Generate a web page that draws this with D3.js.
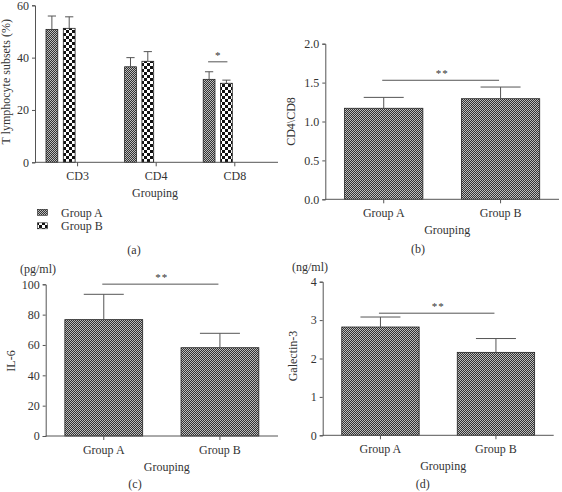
<!DOCTYPE html>
<html><head><meta charset="utf-8">
<script src="https://cdn.jsdelivr.net/npm/d3@7"></script>
<style>
body{margin:0;background:#fff}
svg text{font-family:"Liberation Serif","DejaVu Serif",serif;fill:#333}
</style></head><body>
<script>
// ---- data ----
const subsetCats = ["CD3", "CD4", "CD8"];
const seriesNames = ["Group A", "Group B"];
const subsetA = [50.8, 36.5, 31.7];
const subsetAErr = [5.1, 3.5, 2.9];
const subsetB = [51.2, 38.6, 30.2];
const subsetBErr = [4.4, 3.7, 1.2];
const subsetTicks = [0, 20, 40, 60];

const groups = ["Group A", "Group B"];
const ratioVals = [1.17, 1.293];
const ratioErr = [0.14, 0.15];
const ratioTicks = [0, 0.5, 1.0, 1.5, 2.0];

const il6Vals = [76.7, 58.2];
const il6Err = [16.7, 9.5];
const il6Ticks = [0, 20, 40, 60, 80, 100];

const galVals = [2.82, 2.16];
const galErr = [0.26, 0.36];
const galTicks = [0, 1, 2, 3, 4];

// ---- drawing ----
const W = 562, H = 492;
const svg = d3.select("body").append("svg").attr("width", W).attr("height", H);
const defs = svg.append("defs");
const pA = defs.append("pattern").attr("id", "patA").attr("patternUnits", "userSpaceOnUse").attr("width", 2).attr("height", 2);
pA.append("rect").attr("width", 2).attr("height", 2).attr("fill", "#333");
pA.append("rect").attr("width", 1).attr("height", 1).attr("fill", "#bdbdbd");
pA.append("rect").attr("x", 1).attr("y", 1).attr("width", 1).attr("height", 1).attr("fill", "#bdbdbd");
const pB = defs.append("pattern").attr("id", "patB").attr("patternUnits", "userSpaceOnUse").attr("width", 6).attr("height", 6);
pB.append("rect").attr("width", 6).attr("height", 6).attr("fill", "#fff");
pB.append("rect").attr("width", 3).attr("height", 3).attr("fill", "#111");
pB.append("rect").attr("x", 3).attr("y", 3).attr("width", 3).attr("height", 3).attr("fill", "#111");
const fills = ["url(#patA)", "url(#patB)"];
const AX = "#555";
const FS = "12px";

function styleAxis(g) {
  g.attr("font-family", null).attr("font-size", null);
  g.selectAll("path,line").attr("stroke", AX).attr("stroke-width", 1);
  g.selectAll("text").attr("font-size", FS).attr("fill", "#333");
}

function errBar(g, cx, half, y0, y1) {
  g.append("line").attr("x1", cx).attr("x2", cx).attr("y1", y0).attr("y2", y1).attr("stroke", AX);
  g.append("line").attr("x1", cx - half).attr("x2", cx + half).attr("y1", y1).attr("y2", y1).attr("stroke", AX);
}

// Panel (a)
(function () {
  const left = 35, right = 278, top = 5.3, bottom = 162.3;
  const y = d3.scaleLinear().domain([0, 60]).range([bottom, top]);
  const x0 = d3.scaleBand().domain(subsetCats).range([46, 232.3]).paddingInner(0.63).paddingOuter(0);
  const x1 = d3.scaleBand().domain(seriesNames).range([0, x0.bandwidth()]).paddingInner(0.32);
  const g = svg.append("g");
  const vals = [subsetA, subsetB], errs = [subsetAErr, subsetBErr];
  seriesNames.forEach((s, si) => {
    subsetCats.forEach((c, ci) => {
      const xb = x0(c) + x1(s);
      g.append("rect").attr("x", xb).attr("y", y(vals[si][ci])).attr("width", x1.bandwidth())
        .attr("height", y(0) - y(vals[si][ci])).attr("fill", fills[si]).attr("stroke", "#222").attr("stroke-width", 0.8);
      errBar(g, xb + x1.bandwidth() / 2, x1.bandwidth() * 0.35, y(vals[si][ci]), y(vals[si][ci] + errs[si][ci]));
    });
  });
  const ya = g.append("g").attr("transform", `translate(${left},0)`)
    .call(d3.axisLeft(y).tickValues(subsetTicks).tickSize(3).tickPadding(3));
  styleAxis(ya);
  const xt = d3.scaleOrdinal().domain(subsetCats).range(subsetCats.map(c => x0(c) + x0.bandwidth() + 2));
  const xa = g.append("g").attr("transform", `translate(0,${bottom})`)
    .call(d3.axisBottom(xt).tickSize(4).tickPadding(5));
  xa.select(".domain").remove();
  styleAxis(xa);
  g.append("line").attr("x1", left).attr("x2", right).attr("y1", bottom).attr("y2", bottom).attr("stroke", AX);
  const sx1 = x0("CD8") + x1("Group A") + x1.bandwidth() / 2, sx2 = x0("CD8") + x1("Group B") + x1.bandwidth() / 2;
  g.append("line").attr("x1", sx1 - 1).attr("x2", sx2 + 1).attr("y1", y(38.4)).attr("y2", y(38.4)).attr("stroke", AX);
  g.append("text").attr("x", (sx1 + sx2) / 2).attr("y", y(38.4) - 3).attr("text-anchor", "middle").attr("font-size", "11px").text("*");
  g.append("text").attr("transform", `translate(10,${(top + bottom) / 2 - 2}) rotate(-90)`).attr("text-anchor", "middle")
    .attr("font-size", FS).text("T lymphocyte subsets (%)");
  g.append("text").attr("x", 155).attr("y", 197).attr("text-anchor", "middle").attr("font-size", FS).text("Grouping");
  seriesNames.forEach((s, i) => {
    const ly = 209.3 + i * 13.5;
    g.append("rect").attr("x", 37.5).attr("y", ly).attr("width", 10).attr("height", 6)
      .attr("fill", fills[i]).attr("stroke", "#222").attr("stroke-width", 0.6);
    g.append("text").attr("x", 61).attr("y", ly + 7.5).attr("font-size", FS).text(s);
  });
  g.append("text").attr("x", 134).attr("y", 254).attr("text-anchor", "middle").attr("font-size", FS).text("(a)");
})();

function simplePanel(o) {
  const g = svg.append("g");
  const y = d3.scaleLinear().domain([0, o.ymax]).range([o.bottom, o.top]);
  const x = d3.scaleBand().domain(groups).range([o.left, o.right]).paddingInner(0.33).paddingOuter(0.165);
  groups.forEach((gr, i) => {
    g.append("rect").attr("x", x(gr)).attr("y", y(o.vals[i])).attr("width", x.bandwidth())
      .attr("height", y(0) - y(o.vals[i])).attr("fill", fills[0]).attr("stroke", "#222").attr("stroke-width", 0.8);
    errBar(g, x(gr) + x.bandwidth() / 2, 20, y(o.vals[i]), y(o.vals[i] + o.errs[i]));
  });
  const ya = g.append("g").attr("transform", `translate(${o.left},0)`)
    .call(d3.axisLeft(y).tickValues(o.ticks).tickFormat(o.fmt).tickSize(3).tickPadding(3));
  styleAxis(ya);
  const xa = g.append("g").attr("transform", `translate(0,${o.bottom})`)
    .call(d3.axisBottom(x).tickSize(4).tickPadding(5));
  xa.select(".domain").remove();
  styleAxis(xa);
  g.append("line").attr("x1", o.left).attr("x2", o.right).attr("y1", o.bottom).attr("y2", o.bottom).attr("stroke", AX);
  const c1 = x(groups[0]) + x.bandwidth() / 2, c2 = x(groups[1]) + x.bandwidth() / 2;
  g.append("line").attr("x1", c1 - 1.5).attr("x2", c2 - 1.5).attr("y1", y(o.sig)).attr("y2", y(o.sig)).attr("stroke", AX);
  g.append("text").attr("x", (c1 + c2) / 2).attr("y", y(o.sig) - 3).attr("text-anchor", "middle")
    .attr("font-size", "11px").attr("letter-spacing", "1px").text("**");
  g.append("text").attr("transform", `translate(${o.ylx},${o.yly}) rotate(-90)`).attr("text-anchor", "middle")
    .attr("font-size", FS).text(o.ylabel);
  if (o.unit) g.append("text").attr("x", o.unitX).attr("y", o.unitY).attr("font-size", FS).text(o.unit);
  g.append("text").attr("x", (o.left + o.right) / 2 + 5).attr("y", o.bottom + 35).attr("text-anchor", "middle").attr("font-size", FS).text("Grouping");
  g.append("text").attr("x", o.capX).attr("y", o.capY).attr("text-anchor", "middle").attr("font-size", FS).text(o.cap);
}

simplePanel({ left: 325.3, right: 559, top: 43.7, bottom: 199.3, ymax: 2.0, ticks: ratioTicks, fmt: d3.format(".1f"),
  vals: ratioVals, errs: ratioErr, sig: 1.53, ylabel: "CD4\\CD8", ylx: 295, yly: 121.5,
  capX: 418, capY: 252.5, cap: "(b)" });
simplePanel({ left: 45.7, right: 278, top: 284.3, bottom: 436, ymax: 100, ticks: il6Ticks, fmt: d3.format("d"),
  vals: il6Vals, errs: il6Err, sig: 100.1, ylabel: "IL-6", ylx: 15, yly: 361,
  unit: "(pg/ml)", unitX: 20, unitY: 273, capX: 135, capY: 488, cap: "(c)" });
simplePanel({ left: 322.7, right: 553.7, top: 281.7, bottom: 435.3, ymax: 4, ticks: galTicks, fmt: d3.format("d"),
  vals: galVals, errs: galErr, sig: 3.18, ylabel: "Galectin-3", ylx: 297, yly: 356,
  unit: "(ng/ml)", unitX: 292, unitY: 271, capX: 422.7, capY: 487.5, cap: "(d)" });
</script>
</body></html>
